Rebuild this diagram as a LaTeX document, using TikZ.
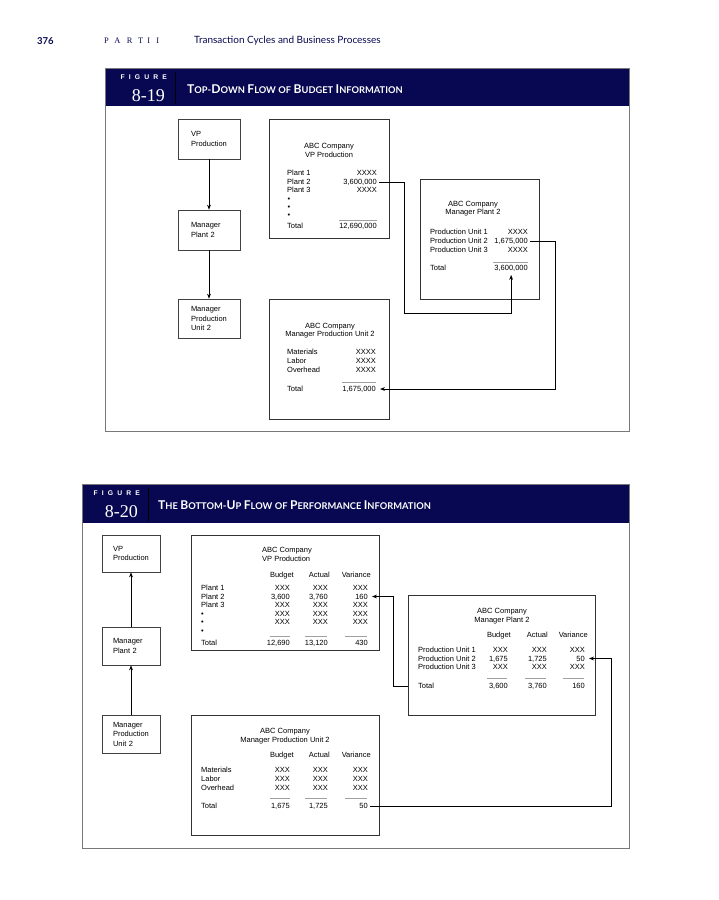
\documentclass[tikz,border=0pt]{standalone}
\usepackage{fontspec}
\setmainfont{Liberation Sans}
\newfontfamily\headfont{Lato}
\newfontfamily\numfont{Liberation Serif}
\newfontfamily\trackfont[LetterSpace=60]{Liberation Sans}
\newfontfamily\trackserif[LetterSpace=75]{Liberation Serif}
\usetikzlibrary{arrows.meta}
\definecolor{bandblue}{RGB}{8,8,82}
\definecolor{framegray}{RGB}{120,120,120}
\definecolor{rulegray}{RGB}{160,160,160}
\newcommand{\capbig}[1]{{\fontsize{12.1}{12}\selectfont#1}}
\newcommand{\capsml}[1]{{\fontsize{9.3}{12}\selectfont#1}}
\tikzset{
  lbl/.style={inner sep=0pt, font=\fontsize{7.5}{8}\selectfont, text height=5.4pt, text depth=0pt},
  orgbox/.style={draw=black!75, line width=0.6pt, inner sep=0pt, text width=36pt, align=left, font=\fontsize{7.5}{9.5}\selectfont},
  repbox/.style={draw=black!80, line width=0.6pt, inner sep=0pt, anchor=north west},
  sumrule/.style={draw=rulegray, line width=0.8pt},
  conn/.style={draw=black, line width=0.8pt, shorten <=2pt, shorten >=4pt, -{Stealth[length=5pt,width=3.8pt]}},
  flowarr/.style={draw=black, line width=0.8pt, -{Stealth[length=5pt,width=3.8pt]}},
  figframe/.style={draw=framegray, line width=1pt},
  bandtxt/.style={inner sep=0pt, text=white}
}
\begin{document}
\begin{tikzpicture}[x=1pt,y=-1pt]
\useasboundingbox[fill=white] (0,0) rectangle (719,900);

% running head
\node[anchor=west, inner sep=0pt, text=bandblue, font=\headfont\bfseries\fontsize{9.5}{10}\selectfont] (pgno) at (37,41) {376};
\node[anchor=west, inner sep=0pt, text=bandblue, font=\trackserif\fontsize{8.4}{10}\selectfont] (partno) at (104,41) {PART\hspace{4pt}II};
\node[anchor=west, inner sep=0pt, text=bandblue, font=\headfont\fontsize{10}{11}\selectfont] (runhead) at (194,41) {Transaction Cycles and Business Processes};

% figure 8-19
\fill[bandblue] (105,68) rectangle (629,106);
\draw[figframe] (105,68) rectangle (629,431);
\draw[black, line width=1pt] (175,72) -- (175,104);
\node[bandtxt, anchor=east, font=\trackfont\bfseries\fontsize{6.8}{7}\selectfont] (fig1lbl) at (167,77) {FIGURE};
\node[bandtxt, anchor=east, font=\numfont\fontsize{18}{18}\selectfont] (fig1no) at (165,96) {8-19};
\node[bandtxt, anchor=west, font=\headfont\bfseries] (fig1ttl) at (187,89.5)
  {\capbig{T}\capsml{OP}-\capbig{D}\capsml{OWN} \capbig{F}\capsml{LOW} \capsml{OF} \capbig{B}\capsml{UDGET} \capbig{I}\capsml{NFORMATION}};

\node[orgbox, minimum width=62pt, minimum height=40pt] (vp1) at (209,139) {VP\\Production\\[2pt]};
\node[orgbox, minimum width=62pt, minimum height=40pt] (mp1) at (209,230) {Manager\\Plant 2};
\node[orgbox, minimum width=62pt, minimum height=39pt] (mu1) at (209,318.5) {Manager\\Production\\Unit 2};
\draw[flowarr] (vp1) -- (mp1);
\draw[flowarr] (mp1) -- (mu1);

% VP report
\node[repbox, minimum width=120pt, minimum height=119pt] (rep1) at (269,119) {};
\node[lbl] (t1a) at (329,146) {ABC Company};
\node[lbl] (t1b) at (329,155) {VP Production};
\foreach \lab/\val/\y [count=\i] in {Plant 1/XXXX/173, Plant 2/{3,600,000}/182, Plant 3/XXXX/190}{
  \node[lbl,anchor=west] (l1-\i) at (287,\y) {\lab};
  \node[lbl,anchor=east] (v1-\i) at (377,\y) {\val};
}
\foreach \y [count=\i] in {199,207,215} \node[lbl,anchor=west] (d1-\i) at (287.5,\y) {\textbullet};
\draw[sumrule] (339,220) -- (377,220);
\node[lbl,anchor=west] (l1-tot) at (287,226) {Total};
\node[lbl,anchor=east] (v1-tot) at (377,226) {12,690,000};

% plant report
\node[repbox, minimum width=119pt, minimum height=120pt] (rep2) at (420,179) {};
\node[lbl] (t2a) at (473,204) {ABC Company};
\node[lbl] (t2b) at (473,212) {Manager Plant 2};
\foreach \lab/\val/\y [count=\i] in {Production Unit 1/XXXX/232, Production Unit 2/{1,675,000}/241, Production Unit 3/XXXX/250}{
  \node[lbl,anchor=west] (l2-\i) at (430,\y) {\lab};
  \node[lbl,anchor=east] (v2-\i) at (528,\y) {\val};
}
\draw[sumrule] (493,262) -- (528,262);
\node[lbl,anchor=west] (l2-tot) at (430,268) {Total};
\node[lbl,anchor=east] (v2-tot) at (528,268) {3,600,000};

% unit report
\node[repbox, minimum width=120pt, minimum height=120pt] (rep3) at (269,299) {};
\node[lbl] (t3a) at (330,326) {ABC Company};
\node[lbl] (t3b) at (330,334) {Manager Production Unit 2};
\foreach \lab/\y [count=\i] in {Materials/352, Labor/361, Overhead/370}{
  \node[lbl,anchor=west] (l3-\i) at (287,\y) {\lab};
  \node[lbl,anchor=east] (v3-\i) at (376,\y) {XXXX};
}
\draw[sumrule] (342,382) -- (376,382);
\node[lbl,anchor=west] (l3-tot) at (287,389) {Total};
\node[lbl,anchor=east] (v3-tot) at (376,389) {1,675,000};

\coordinate (c1) at (404,313);
\coordinate (c2) at (555,0);
\draw[conn] (v1-2.east) -| (c1) -| (v2-tot.south);
\draw[conn] (v2-2.east) -| (c2 |- v3-tot.east) -- (v3-tot.east);

% figure 8-20
\fill[bandblue] (82,484) rectangle (629,523);
\draw[figframe] (82,484) rectangle (629,848);
\draw[black, line width=1pt] (148,488) -- (148,521);
\node[bandtxt, anchor=east, font=\trackfont\bfseries\fontsize{6.8}{7}\selectfont] (fig2lbl) at (140,493) {FIGURE};
\node[bandtxt, anchor=east, font=\numfont\fontsize{18}{18}\selectfont] (fig2no) at (138,512) {8-20};
\node[bandtxt, anchor=west, font=\headfont\bfseries] (fig2ttl) at (158,505.5)
  {\capbig{T}\capsml{HE} \capbig{B}\capsml{OTTOM}-\capbig{U}\capsml{P} \capbig{F}\capsml{LOW} \capsml{OF} \capbig{P}\capsml{ERFORMANCE} \capbig{I}\capsml{NFORMATION}};

\node[orgbox, minimum width=58pt, minimum height=37pt] (vp2) at (131,553.5) {VP\\Production};
\node[orgbox, minimum width=58pt, minimum height=38pt] (mp2) at (131,646) {Manager\\Plant 2};
\node[orgbox, minimum width=58pt, minimum height=38pt] (mu2) at (131,734) {Manager\\Production\\Unit 2};
\draw[flowarr] (mp2) -- (vp2);
\draw[flowarr] (mu2) -- (mp2);

% VP performance report
\node[repbox, minimum width=188pt, minimum height=115pt] (repA) at (191,535) {};
\node[lbl,anchor=west] (tAa) at (262,550) {ABC Company};
\node[lbl,anchor=west] (tAb) at (262,558.5) {VP Production};
\foreach \hd/\x [count=\i] in {Budget/294, Actual/330, Variance/371} \node[lbl,anchor=east] (hA-\i) at (\x,575) {\hd};
\foreach \lab/\bud/\act/\var/\y [count=\i] in {Plant 1/XXX/XXX/XXX/588, Plant 2/{3,600}/{3,760}/160/596.5, Plant 3/XXX/XXX/XXX/605, \textbullet/XXX/XXX/XXX/613.5, \textbullet/XXX/XXX/XXX/622}{
  \node[lbl,anchor=west] (lA-\i) at (201,\y) {\lab};
  \node[lbl,anchor=east] (bA-\i) at (290,\y) {\bud};
  \node[lbl,anchor=east] (aA-\i) at (328,\y) {\act};
  \node[lbl,anchor=east] (vA-\i) at (368,\y) {\var};
}
\node[lbl,anchor=west] (lA-6) at (201,630.5) {\textbullet};
\foreach \xa/\xb in {270/290, 305/327, 345/367} \draw[sumrule] (\xa,636) -- (\xb,636);
\node[lbl,anchor=west] (lA-tot) at (201,643) {Total};
\node[lbl,anchor=east] (bA-tot) at (290,643) {12,690};
\node[lbl,anchor=east] (aA-tot) at (328,643) {13,120};
\node[lbl,anchor=east] (vA-tot) at (368,643) {430};

% plant performance report
\node[repbox, minimum width=187pt, minimum height=120pt] (repB) at (408,595) {};
\node[lbl] (tBa) at (502,611) {ABC Company};
\node[lbl] (tBb) at (502,619.5) {Manager Plant 2};
\foreach \hd/\x [count=\i] in {Budget/511, Actual/548, Variance/588} \node[lbl,anchor=east] (hB-\i) at (\x,635) {\hd};
\foreach \lab/\bud/\act/\var/\y [count=\i] in {Production Unit 1/XXX/XXX/XXX/650, Production Unit 2/{1,675}/{1,725}/50/658.5, Production Unit 3/XXX/XXX/XXX/667}{
  \node[lbl,anchor=west] (lB-\i) at (418,\y) {\lab};
  \node[lbl,anchor=east] (bB-\i) at (508,\y) {\bud};
  \node[lbl,anchor=east] (aB-\i) at (547,\y) {\act};
  \node[lbl,anchor=east] (vB-\i) at (585,\y) {\var};
}
\foreach \xa/\xb in {487/507, 525/546, 563/584} \draw[sumrule] (\xa,678) -- (\xb,678);
\node[lbl,anchor=west] (lB-tot) at (418,686) {Total};
\node[lbl,anchor=east] (bB-tot) at (508,686) {3,600};
\node[lbl,anchor=east] (aB-tot) at (547,686) {3,760};
\node[lbl,anchor=east] (vB-tot) at (585,686) {160};

% unit performance report
\node[repbox, minimum width=188pt, minimum height=120pt] (repC) at (191,715) {};
\node[lbl] (tCa) at (285,731) {ABC Company};
\node[lbl] (tCb) at (285,740) {Manager Production Unit 2};
\foreach \hd/\x [count=\i] in {Budget/294, Actual/330, Variance/371} \node[lbl,anchor=east] (hC-\i) at (\x,755) {\hd};
\foreach \lab/\y [count=\i] in {Materials/770, Labor/779, Overhead/788}{
  \node[lbl,anchor=west] (lC-\i) at (201,\y) {\lab};
  \node[lbl,anchor=east] (bC-\i) at (290,\y) {XXX};
  \node[lbl,anchor=east] (aC-\i) at (328,\y) {XXX};
  \node[lbl,anchor=east] (vC-\i) at (368,\y) {XXX};
}
\foreach \xa/\xb in {270/290, 305/327, 345/367} \draw[sumrule] (\xa,798) -- (\xb,798);
\node[lbl,anchor=west] (lC-tot) at (201,806) {Total};
\node[lbl,anchor=east] (bC-tot) at (290,806) {1,675};
\node[lbl,anchor=east] (aC-tot) at (328,806) {1,725};
\node[lbl,anchor=east] (vC-tot) at (368,806) {50};

\coordinate (c3) at (393,0);
\coordinate (c4) at (611,0);
\draw[conn, shorten <=0pt] (repB.west |- vB-tot.east) -| (c3 |- vA-2.east) -- (vA-2.east);
\draw[conn] (vC-tot.east) -| (c4 |- vB-2.east) -- (vB-2.east);
\end{tikzpicture}
\end{document}
